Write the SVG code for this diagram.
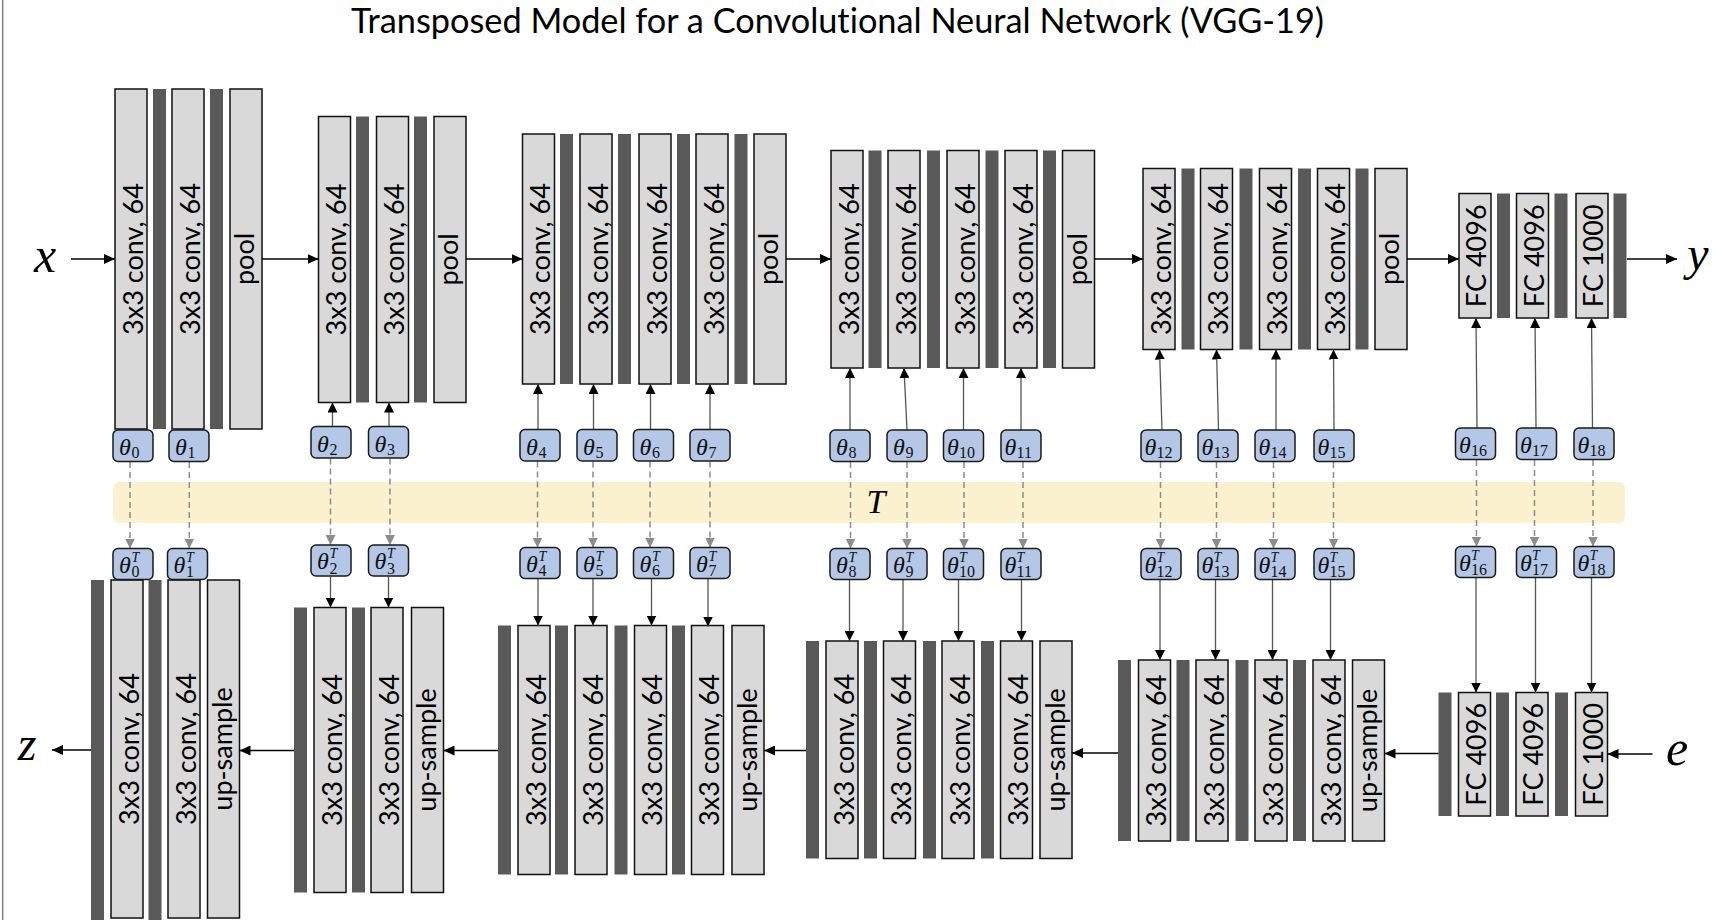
<svg xmlns="http://www.w3.org/2000/svg" width="1729" height="920" viewBox="0 0 1729 920">
<style>
  .box{fill:#D9D9D9;stroke:#111;stroke-width:1.5}
  .bar{fill:#595959}
  .lbl{font-family:Lato,"Open Sans",sans-serif;font-size:27px;fill:#000;text-anchor:middle}
  .th{fill:#B4C7E7;stroke:#1a1a1a;stroke-width:1.5}
  .tt{font-family:"Liberation Serif","DejaVu Serif",serif;font-style:italic;font-size:24px;fill:#111}
  .sb{font-style:normal;font-size:16px}
  .sp{font-style:italic;font-size:14px}
  .var{font-family:"Liberation Serif","DejaVu Serif",serif;font-style:italic;fill:#000}
  .main{stroke:#000;stroke-width:1.7;fill:none}
  .up{stroke:#555;stroke-width:1.3;fill:none}
  .dash{stroke:#8C8C8C;stroke-width:1.5;stroke-dasharray:6 4;fill:none}
  .title{font-family:Lato,"Open Sans",sans-serif;font-size:34px;fill:#000;text-anchor:middle;font-variant-ligatures:none}
</style>
<defs>
  <marker id="ah" markerUnits="userSpaceOnUse" markerWidth="11" markerHeight="10" refX="11" refY="5" orient="auto">
    <path d="M0,0 L11,5 L0,10 Z" fill="#000"/>
  </marker>
  <marker id="av" markerUnits="userSpaceOnUse" markerWidth="10" markerHeight="10" refX="10" refY="5" orient="auto">
    <path d="M0,0 L10,5 L0,10 Z" fill="#000"/>
  </marker>
  <marker id="ag" markerUnits="userSpaceOnUse" markerWidth="10" markerHeight="10" refX="10" refY="5" orient="auto">
    <path d="M0,0 L10,5 L0,10 Z" fill="#8C8C8C"/>
  </marker>
</defs>

<rect width="1729" height="920" fill="#fff"/>
<line x1="2.7" y1="0" x2="2.7" y2="920" stroke="#808080" stroke-width="1.5"/>

<text class="title" x="837.5" y="33" textLength="973" lengthAdjust="spacingAndGlyphs">Transposed Model for a Convolutional Neural Network (VGG-19)</text>

<!-- shared weight transform band -->
<g id="band-T">
  <rect x="113" y="482" width="1512" height="41" rx="6" fill="#FCF1CF"/>
  <text class="var" x="876" y="513" font-size="34" text-anchor="middle">T</text>
</g>

<!-- input / output variables -->
<g id="var-x"><text class="var" x="45" y="272" font-size="50" text-anchor="middle">x</text></g>
<g id="var-y"><text class="var" x="1698" y="270" font-size="48" text-anchor="middle">y</text></g>
<g id="var-z"><text class="var" x="27" y="760" font-size="48" text-anchor="middle">z</text></g>
<g id="var-e"><text class="var" x="1677" y="765" font-size="50" text-anchor="middle">e</text></g>

<!-- ===== forward network ===== -->
<g id="f1-1"><rect class="box" x="115" y="89" width="32" height="340"/><text class="lbl" transform="translate(142.5,259) rotate(-90)">3x3 conv, 64</text></g>
<g id="f1-2"><rect class="box" x="172" y="89" width="32" height="340"/><text class="lbl" transform="translate(199.5,259) rotate(-90)">3x3 conv, 64</text></g>
<g id="f1-pool"><rect class="box" x="230" y="89" width="32" height="340"/><text class="lbl" transform="translate(254,259) rotate(-90)">pool</text></g>
<g id="f1-act" class="bar"><rect x="153" y="89" width="13" height="340"/><rect x="210" y="89" width="13" height="340"/></g>

<g id="f2-1"><rect class="box" x="318.5" y="116.5" width="32" height="286"/><text class="lbl" transform="translate(346,259.5) rotate(-90)">3x3 conv, 64</text></g>
<g id="f2-2"><rect class="box" x="376.5" y="116.5" width="32" height="286"/><text class="lbl" transform="translate(404,259.5) rotate(-90)">3x3 conv, 64</text></g>
<g id="f2-pool"><rect class="box" x="434" y="116.5" width="32" height="286"/><text class="lbl" transform="translate(458,259.5) rotate(-90)">pool</text></g>
<g id="f2-act" class="bar"><rect x="356" y="116.5" width="13" height="286"/><rect x="414" y="116.5" width="13" height="286"/></g>

<g id="f3-1"><rect class="box" x="522.5" y="134" width="32" height="250"/><text class="lbl" transform="translate(550,259) rotate(-90)">3x3 conv, 64</text></g>
<g id="f3-2"><rect class="box" x="580" y="134" width="32" height="250"/><text class="lbl" transform="translate(607.5,259) rotate(-90)">3x3 conv, 64</text></g>
<g id="f3-3"><rect class="box" x="639" y="134" width="32" height="250"/><text class="lbl" transform="translate(666.5,259) rotate(-90)">3x3 conv, 64</text></g>
<g id="f3-4"><rect class="box" x="696" y="134" width="32" height="250"/><text class="lbl" transform="translate(723.5,259) rotate(-90)">3x3 conv, 64</text></g>
<g id="f3-pool"><rect class="box" x="754" y="134" width="32" height="250"/><text class="lbl" transform="translate(778,259) rotate(-90)">pool</text></g>
<g id="f3-act" class="bar"><rect x="560" y="134" width="13" height="250"/><rect x="618" y="134" width="13" height="250"/><rect x="677" y="134" width="13" height="250"/><rect x="734.5" y="134" width="13" height="250"/></g>

<g id="f4-1"><rect class="box" x="831" y="150.5" width="32" height="217.5"/><text class="lbl" transform="translate(858.5,259.3) rotate(-90)">3x3 conv, 64</text></g>
<g id="f4-2"><rect class="box" x="888" y="150.5" width="32" height="217.5"/><text class="lbl" transform="translate(915.5,259.3) rotate(-90)">3x3 conv, 64</text></g>
<g id="f4-3"><rect class="box" x="947" y="150.5" width="32" height="217.5"/><text class="lbl" transform="translate(974.5,259.3) rotate(-90)">3x3 conv, 64</text></g>
<g id="f4-4"><rect class="box" x="1005" y="150.5" width="32" height="217.5"/><text class="lbl" transform="translate(1032.5,259.3) rotate(-90)">3x3 conv, 64</text></g>
<g id="f4-pool"><rect class="box" x="1062.5" y="150.5" width="32" height="217.5"/><text class="lbl" transform="translate(1086.5,259.3) rotate(-90)">pool</text></g>
<g id="f4-act" class="bar"><rect x="868.5" y="150.5" width="13" height="217.5"/><rect x="927" y="150.5" width="13" height="217.5"/><rect x="985.5" y="150.5" width="13" height="217.5"/><rect x="1043" y="150.5" width="13" height="217.5"/></g>

<g id="f5-1"><rect class="box" x="1143" y="168.5" width="32" height="181"/><text class="lbl" transform="translate(1170.5,259) rotate(-90)">3x3 conv, 64</text></g>
<g id="f5-2"><rect class="box" x="1200.5" y="168.5" width="32" height="181"/><text class="lbl" transform="translate(1228,259) rotate(-90)">3x3 conv, 64</text></g>
<g id="f5-3"><rect class="box" x="1259.5" y="168.5" width="32" height="181"/><text class="lbl" transform="translate(1287,259) rotate(-90)">3x3 conv, 64</text></g>
<g id="f5-4"><rect class="box" x="1317.5" y="168.5" width="32" height="181"/><text class="lbl" transform="translate(1345,259) rotate(-90)">3x3 conv, 64</text></g>
<g id="f5-pool"><rect class="box" x="1375" y="168.5" width="32" height="181"/><text class="lbl" transform="translate(1399,259) rotate(-90)">pool</text></g>
<g id="f5-act" class="bar"><rect x="1181.5" y="168.5" width="13" height="181"/><rect x="1239.5" y="168.5" width="13" height="181"/><rect x="1298" y="168.5" width="13" height="181"/><rect x="1355.5" y="168.5" width="13" height="181"/></g>

<g id="f6-fc1"><rect class="box" x="1459" y="193.5" width="32" height="124.5"/><text class="lbl" transform="translate(1486,255.8) rotate(-90)">FC 4096</text></g>
<g id="f6-fc2"><rect class="box" x="1516.5" y="193.5" width="32" height="124.5"/><text class="lbl" transform="translate(1543.5,255.8) rotate(-90)">FC 4096</text></g>
<g id="f6-fc3"><rect class="box" x="1576" y="193.5" width="32" height="124.5"/><text class="lbl" transform="translate(1603,255.8) rotate(-90)">FC 1000</text></g>
<g id="f6-act" class="bar"><rect x="1497" y="193.5" width="13" height="124.5"/><rect x="1554.5" y="193.5" width="13" height="124.5"/><rect x="1613.5" y="193.5" width="13" height="124.5"/></g>

<!-- ===== transposed network ===== -->
<g id="t1-1"><rect class="box" x="111" y="580" width="32" height="338"/><text class="lbl" transform="translate(138.5,749) rotate(-90)">3x3 conv, 64</text></g>
<g id="t1-2"><rect class="box" x="168" y="580" width="32" height="338"/><text class="lbl" transform="translate(195.5,749) rotate(-90)">3x3 conv, 64</text></g>
<g id="t1-up"><rect class="box" x="207.5" y="580" width="32" height="338"/><text class="lbl" transform="translate(232,749) rotate(-90)">up-sample</text></g>
<g id="t1-act" class="bar"><rect x="91" y="580" width="13" height="340"/><rect x="148.5" y="580" width="13" height="340"/></g>

<g id="t2-1"><rect class="box" x="314" y="607.5" width="32" height="285"/><text class="lbl" transform="translate(341.5,750) rotate(-90)">3x3 conv, 64</text></g>
<g id="t2-2"><rect class="box" x="371" y="607.5" width="32" height="285"/><text class="lbl" transform="translate(398.5,750) rotate(-90)">3x3 conv, 64</text></g>
<g id="t2-up"><rect class="box" x="411.5" y="607.5" width="32" height="285"/><text class="lbl" transform="translate(436,750) rotate(-90)">up-sample</text></g>
<g id="t2-act" class="bar"><rect x="294" y="607.5" width="13" height="285"/><rect x="352" y="607.5" width="13" height="285"/></g>

<g id="t3-1"><rect class="box" x="518" y="625.5" width="32" height="249"/><text class="lbl" transform="translate(545.5,750) rotate(-90)">3x3 conv, 64</text></g>
<g id="t3-2"><rect class="box" x="575" y="625.5" width="32" height="249"/><text class="lbl" transform="translate(602.5,750) rotate(-90)">3x3 conv, 64</text></g>
<g id="t3-3"><rect class="box" x="634.5" y="625.5" width="32" height="249"/><text class="lbl" transform="translate(662,750) rotate(-90)">3x3 conv, 64</text></g>
<g id="t3-4"><rect class="box" x="691.5" y="625.5" width="32" height="249"/><text class="lbl" transform="translate(719,750) rotate(-90)">3x3 conv, 64</text></g>
<g id="t3-up"><rect class="box" x="732" y="625.5" width="32" height="249"/><text class="lbl" transform="translate(756.5,750) rotate(-90)">up-sample</text></g>
<g id="t3-act" class="bar"><rect x="498" y="625.5" width="13" height="249"/><rect x="555" y="625.5" width="13" height="249"/><rect x="614.5" y="625.5" width="13" height="249"/><rect x="672" y="625.5" width="13" height="249"/></g>

<g id="t4-1"><rect class="box" x="826" y="641" width="32" height="217.5"/><text class="lbl" transform="translate(853.5,749.8) rotate(-90)">3x3 conv, 64</text></g>
<g id="t4-2"><rect class="box" x="883.5" y="641" width="32" height="217.5"/><text class="lbl" transform="translate(911,749.8) rotate(-90)">3x3 conv, 64</text></g>
<g id="t4-3"><rect class="box" x="942" y="641" width="32" height="217.5"/><text class="lbl" transform="translate(969.5,749.8) rotate(-90)">3x3 conv, 64</text></g>
<g id="t4-4"><rect class="box" x="1000.5" y="641" width="32" height="217.5"/><text class="lbl" transform="translate(1028,749.8) rotate(-90)">3x3 conv, 64</text></g>
<g id="t4-up"><rect class="box" x="1040" y="641" width="32" height="217.5"/><text class="lbl" transform="translate(1064.5,749.8) rotate(-90)">up-sample</text></g>
<g id="t4-act" class="bar"><rect x="806" y="641" width="13" height="217.5"/><rect x="864" y="641" width="13" height="217.5"/><rect x="923" y="641" width="13" height="217.5"/><rect x="981" y="641" width="13" height="217.5"/></g>

<g id="t5-1"><rect class="box" x="1138.5" y="660" width="32" height="181"/><text class="lbl" transform="translate(1166,750.5) rotate(-90)">3x3 conv, 64</text></g>
<g id="t5-2"><rect class="box" x="1196" y="660" width="32" height="181"/><text class="lbl" transform="translate(1223.5,750.5) rotate(-90)">3x3 conv, 64</text></g>
<g id="t5-3"><rect class="box" x="1255" y="660" width="32" height="181"/><text class="lbl" transform="translate(1282.5,750.5) rotate(-90)">3x3 conv, 64</text></g>
<g id="t5-4"><rect class="box" x="1313" y="660" width="32" height="181"/><text class="lbl" transform="translate(1340.5,750.5) rotate(-90)">3x3 conv, 64</text></g>
<g id="t5-up"><rect class="box" x="1352.5" y="660" width="32" height="181"/><text class="lbl" transform="translate(1377,750.5) rotate(-90)">up-sample</text></g>
<g id="t5-act" class="bar"><rect x="1118" y="660" width="13" height="181"/><rect x="1176.5" y="660" width="13" height="181"/><rect x="1235.5" y="660" width="13" height="181"/><rect x="1293" y="660" width="13" height="181"/></g>

<g id="t6-fc1"><rect class="box" x="1458.5" y="692.5" width="32" height="123.5"/><text class="lbl" transform="translate(1485.5,754.3) rotate(-90)">FC 4096</text></g>
<g id="t6-fc2"><rect class="box" x="1516" y="692.5" width="32" height="123.5"/><text class="lbl" transform="translate(1543,754.3) rotate(-90)">FC 4096</text></g>
<g id="t6-fc3"><rect class="box" x="1575.5" y="692.5" width="32" height="123.5"/><text class="lbl" transform="translate(1602.5,754.3) rotate(-90)">FC 1000</text></g>
<g id="t6-act" class="bar"><rect x="1438.5" y="692.5" width="13" height="123.5"/><rect x="1496" y="692.5" width="13" height="123.5"/><rect x="1555" y="692.5" width="13" height="123.5"/></g>

<!-- ===== connectors ===== -->
<g id="connectors">
  <!-- data flow, forward -->
  <g class="main" marker-end="url(#ah)">
    <line x1="71" y1="259" x2="115" y2="259"/>
    <line x1="262" y1="259" x2="318.5" y2="259"/>
    <line x1="466" y1="259" x2="522.5" y2="259"/>
    <line x1="786" y1="259" x2="831" y2="259"/>
    <line x1="1094.5" y1="259" x2="1143" y2="259"/>
    <line x1="1407" y1="259" x2="1459" y2="259"/>
    <line x1="1627" y1="259" x2="1677" y2="259"/>
  <!-- data flow, transposed -->
    <line x1="1652.5" y1="754" x2="1607.5" y2="754"/>
    <line x1="1438.5" y1="753.5" x2="1384.5" y2="753.5"/>
    <line x1="1118" y1="753" x2="1072" y2="753"/>
    <line x1="806" y1="750.5" x2="764" y2="750.5"/>
    <line x1="498" y1="750.5" x2="443.5" y2="750.5"/>
    <line x1="294" y1="750.5" x2="239.5" y2="750.5"/>
    <line x1="91" y1="750" x2="52" y2="750"/>
  </g>
  <!-- weights into forward layers -->
  <g class="up" marker-end="url(#av)">
    <line x1="332.5" y1="426.5" x2="332.5" y2="402.5"/>
    <line x1="389" y1="426.5" x2="389" y2="402.5"/>
    <line x1="538" y1="429.5" x2="538" y2="384"/>
    <line x1="593.5" y1="429.5" x2="593.5" y2="384"/>
    <line x1="650.5" y1="429.5" x2="650.5" y2="384"/>
    <line x1="710" y1="429.5" x2="710" y2="384"/>
    <line x1="850" y1="430" x2="850" y2="368"/>
    <line x1="907" y1="430" x2="904" y2="368"/>
    <line x1="963.5" y1="430" x2="963.5" y2="368"/>
    <line x1="1021" y1="430" x2="1021" y2="368"/>
    <line x1="1162" y1="430" x2="1159.5" y2="349.5"/>
    <line x1="1218.5" y1="430" x2="1216.5" y2="349.5"/>
    <line x1="1276" y1="430" x2="1276" y2="349.5"/>
    <line x1="1334" y1="430" x2="1333.5" y2="349.5"/>
    <line x1="1477" y1="428" x2="1476" y2="318"/>
    <line x1="1536" y1="428" x2="1535" y2="318"/>
    <line x1="1592.5" y1="428" x2="1591.5" y2="318"/>
  </g>
  <!-- transposed weights into transposed layers -->
  <g class="up" marker-end="url(#av)">
    <line x1="330.5" y1="576.5" x2="330.5" y2="607.5"/>
    <line x1="388.5" y1="576.5" x2="388.5" y2="607.5"/>
    <line x1="538" y1="579" x2="538" y2="625.5"/>
    <line x1="593" y1="579" x2="593" y2="625.5"/>
    <line x1="651.5" y1="579" x2="651.5" y2="625.5"/>
    <line x1="708" y1="579" x2="708" y2="626.5"/>
    <line x1="849.5" y1="580" x2="849.5" y2="641"/>
    <line x1="903" y1="580" x2="903" y2="641"/>
    <line x1="958.5" y1="580" x2="958.5" y2="641"/>
    <line x1="1021.5" y1="580" x2="1021.5" y2="641"/>
    <line x1="1160" y1="580" x2="1160" y2="660"/>
    <line x1="1215.5" y1="580" x2="1215.5" y2="660"/>
    <line x1="1272.5" y1="580" x2="1272.5" y2="660"/>
    <line x1="1330.5" y1="580" x2="1330.5" y2="660"/>
    <line x1="1476" y1="578" x2="1476" y2="692.5"/>
    <line x1="1535.5" y1="578" x2="1535.5" y2="692.5"/>
    <line x1="1591.5" y1="578" x2="1591.5" y2="692.5"/>
  </g>
  <!-- transpose mapping theta -> theta^T -->
  <g class="dash" marker-end="url(#ag)">
    <line x1="130" y1="462" x2="130" y2="548.5"/>
    <line x1="189.3" y1="462" x2="189.3" y2="548.5"/>
    <line x1="330.5" y1="458.5" x2="330.5" y2="545"/>
    <line x1="390" y1="458.5" x2="390" y2="545"/>
    <line x1="537.5" y1="461.5" x2="537.5" y2="547.5"/>
    <line x1="593" y1="461.5" x2="593" y2="547.5"/>
    <line x1="650" y1="461.5" x2="650" y2="547.5"/>
    <line x1="710" y1="461.5" x2="710" y2="547.5"/>
    <line x1="850.5" y1="462" x2="850.5" y2="548.5"/>
    <line x1="907" y1="462" x2="907" y2="548.5"/>
    <line x1="964" y1="462" x2="964" y2="548.5"/>
    <line x1="1023" y1="462" x2="1023" y2="548.5"/>
    <line x1="1160.5" y1="462" x2="1160.5" y2="548.5"/>
    <line x1="1216.5" y1="462" x2="1216.5" y2="548.5"/>
    <line x1="1273.5" y1="462" x2="1273.5" y2="548.5"/>
    <line x1="1333.5" y1="462" x2="1333.5" y2="548.5"/>
    <line x1="1476.5" y1="460" x2="1476.5" y2="546.5"/>
    <line x1="1534.5" y1="460" x2="1534.5" y2="546.5"/>
    <line x1="1593" y1="460" x2="1593" y2="546.5"/>
  </g>
</g>

<!-- ===== weight nodes ===== -->
<g id="w0"><rect class="th" x="113" y="430" width="40" height="31.5" rx="5"/><text class="tt" x="119" y="455">θ<tspan class="sb" x="131.5" y="458">0</tspan></text></g>
<g id="w1"><rect class="th" x="169" y="430" width="40" height="31.5" rx="5"/><text class="tt" x="175" y="455">θ<tspan class="sb" x="187.5" y="458">1</tspan></text></g>
<g id="w2"><rect class="th" x="311" y="426.5" width="40" height="31.5" rx="5"/><text class="tt" x="317" y="451.5">θ<tspan class="sb" x="329.5" y="454.5">2</tspan></text></g>
<g id="w3"><rect class="th" x="368.5" y="426.5" width="40" height="31.5" rx="5"/><text class="tt" x="374.5" y="451.5">θ<tspan class="sb" x="387" y="454.5">3</tspan></text></g>
<g id="w4"><rect class="th" x="520" y="429.5" width="40" height="31.5" rx="5"/><text class="tt" x="526" y="454.5">θ<tspan class="sb" x="538.5" y="457.5">4</tspan></text></g>
<g id="w5"><rect class="th" x="577" y="429.5" width="40" height="31.5" rx="5"/><text class="tt" x="583" y="454.5">θ<tspan class="sb" x="595.5" y="457.5">5</tspan></text></g>
<g id="w6"><rect class="th" x="633.5" y="429.5" width="40" height="31.5" rx="5"/><text class="tt" x="639.5" y="454.5">θ<tspan class="sb" x="652" y="457.5">6</tspan></text></g>
<g id="w7"><rect class="th" x="690" y="429.5" width="40" height="31.5" rx="5"/><text class="tt" x="696" y="454.5">θ<tspan class="sb" x="708.5" y="457.5">7</tspan></text></g>
<g id="w8"><rect class="th" x="830" y="430" width="40" height="31.5" rx="5"/><text class="tt" x="836" y="455">θ<tspan class="sb" x="848.5" y="458">8</tspan></text></g>
<g id="w9"><rect class="th" x="887" y="430" width="40" height="31.5" rx="5"/><text class="tt" x="893" y="455">θ<tspan class="sb" x="905.5" y="458">9</tspan></text></g>
<g id="w10"><rect class="th" x="943.5" y="430" width="40" height="31.5" rx="5"/><text class="tt" x="947" y="455">θ<tspan class="sb" x="959" y="458">10</tspan></text></g>
<g id="w11"><rect class="th" x="1001" y="430" width="40" height="31.5" rx="5"/><text class="tt" x="1004.5" y="455">θ<tspan class="sb" x="1016.5" y="458">11</tspan></text></g>
<g id="w12"><rect class="th" x="1141" y="430" width="40" height="31.5" rx="5"/><text class="tt" x="1144.5" y="455">θ<tspan class="sb" x="1156.5" y="458">12</tspan></text></g>
<g id="w13"><rect class="th" x="1198" y="430" width="40" height="31.5" rx="5"/><text class="tt" x="1201.5" y="455">θ<tspan class="sb" x="1213.5" y="458">13</tspan></text></g>
<g id="w14"><rect class="th" x="1255" y="430" width="40" height="31.5" rx="5"/><text class="tt" x="1258.5" y="455">θ<tspan class="sb" x="1270.5" y="458">14</tspan></text></g>
<g id="w15"><rect class="th" x="1314" y="430" width="40" height="31.5" rx="5"/><text class="tt" x="1317.5" y="455">θ<tspan class="sb" x="1329.5" y="458">15</tspan></text></g>
<g id="w16"><rect class="th" x="1455.5" y="428" width="40" height="31.5" rx="5"/><text class="tt" x="1459" y="453">θ<tspan class="sb" x="1471" y="456">16</tspan></text></g>
<g id="w17"><rect class="th" x="1516.5" y="428" width="40" height="31.5" rx="5"/><text class="tt" x="1520" y="453">θ<tspan class="sb" x="1532" y="456">17</tspan></text></g>
<g id="w18"><rect class="th" x="1574" y="428" width="40" height="31.5" rx="5"/><text class="tt" x="1577.5" y="453">θ<tspan class="sb" x="1589.5" y="456">18</tspan></text></g>

<g id="wt0"><rect class="th" x="113" y="548.5" width="40" height="31" rx="5"/><text class="tt" x="119" y="572.5">θ<tspan class="sp" x="131.5" y="561.5">T</tspan><tspan class="sb" x="131.5" y="577">0</tspan></text></g>
<g id="wt1"><rect class="th" x="167.5" y="548.5" width="40" height="31" rx="5"/><text class="tt" x="173.5" y="572.5">θ<tspan class="sp" x="186" y="561.5">T</tspan><tspan class="sb" x="186" y="577">1</tspan></text></g>
<g id="wt2"><rect class="th" x="311" y="545" width="40" height="31" rx="5"/><text class="tt" x="317" y="569">θ<tspan class="sp" x="329.5" y="558">T</tspan><tspan class="sb" x="329.5" y="573.5">2</tspan></text></g>
<g id="wt3"><rect class="th" x="368.5" y="545" width="40" height="31" rx="5"/><text class="tt" x="374.5" y="569">θ<tspan class="sp" x="387" y="558">T</tspan><tspan class="sb" x="387" y="573.5">3</tspan></text></g>
<g id="wt4"><rect class="th" x="520" y="547.5" width="40" height="31" rx="5"/><text class="tt" x="526" y="571.5">θ<tspan class="sp" x="538.5" y="560.5">T</tspan><tspan class="sb" x="538.5" y="576">4</tspan></text></g>
<g id="wt5"><rect class="th" x="577" y="547.5" width="40" height="31" rx="5"/><text class="tt" x="583" y="571.5">θ<tspan class="sp" x="595.5" y="560.5">T</tspan><tspan class="sb" x="595.5" y="576">5</tspan></text></g>
<g id="wt6"><rect class="th" x="633.5" y="547.5" width="40" height="31" rx="5"/><text class="tt" x="639.5" y="571.5">θ<tspan class="sp" x="652" y="560.5">T</tspan><tspan class="sb" x="652" y="576">6</tspan></text></g>
<g id="wt7"><rect class="th" x="690" y="547.5" width="40" height="31" rx="5"/><text class="tt" x="696" y="571.5">θ<tspan class="sp" x="708.5" y="560.5">T</tspan><tspan class="sb" x="708.5" y="576">7</tspan></text></g>
<g id="wt8"><rect class="th" x="830" y="548.5" width="40" height="31" rx="5"/><text class="tt" x="836" y="572.5">θ<tspan class="sp" x="848.5" y="561.5">T</tspan><tspan class="sb" x="848.5" y="577">8</tspan></text></g>
<g id="wt9"><rect class="th" x="887" y="548.5" width="40" height="31" rx="5"/><text class="tt" x="893" y="572.5">θ<tspan class="sp" x="905.5" y="561.5">T</tspan><tspan class="sb" x="905.5" y="577">9</tspan></text></g>
<g id="wt10"><rect class="th" x="943.5" y="548.5" width="40" height="31" rx="5"/><text class="tt" x="947" y="572.5">θ<tspan class="sp" x="959" y="561.5">T</tspan><tspan class="sb" x="959" y="577">10</tspan></text></g>
<g id="wt11"><rect class="th" x="1001" y="548.5" width="40" height="31" rx="5"/><text class="tt" x="1004.5" y="572.5">θ<tspan class="sp" x="1016.5" y="561.5">T</tspan><tspan class="sb" x="1016.5" y="577">11</tspan></text></g>
<g id="wt12"><rect class="th" x="1141" y="548.5" width="40" height="31" rx="5"/><text class="tt" x="1144.5" y="572.5">θ<tspan class="sp" x="1156.5" y="561.5">T</tspan><tspan class="sb" x="1156.5" y="577">12</tspan></text></g>
<g id="wt13"><rect class="th" x="1198" y="548.5" width="40" height="31" rx="5"/><text class="tt" x="1201.5" y="572.5">θ<tspan class="sp" x="1213.5" y="561.5">T</tspan><tspan class="sb" x="1213.5" y="577">13</tspan></text></g>
<g id="wt14"><rect class="th" x="1255" y="548.5" width="40" height="31" rx="5"/><text class="tt" x="1258.5" y="572.5">θ<tspan class="sp" x="1270.5" y="561.5">T</tspan><tspan class="sb" x="1270.5" y="577">14</tspan></text></g>
<g id="wt15"><rect class="th" x="1314" y="548.5" width="40" height="31" rx="5"/><text class="tt" x="1317.5" y="572.5">θ<tspan class="sp" x="1329.5" y="561.5">T</tspan><tspan class="sb" x="1329.5" y="577">15</tspan></text></g>
<g id="wt16"><rect class="th" x="1455.5" y="546.5" width="40" height="31" rx="5"/><text class="tt" x="1459" y="570.5">θ<tspan class="sp" x="1471" y="559.5">T</tspan><tspan class="sb" x="1471" y="575">16</tspan></text></g>
<g id="wt17"><rect class="th" x="1516.5" y="546.5" width="40" height="31" rx="5"/><text class="tt" x="1520" y="570.5">θ<tspan class="sp" x="1532" y="559.5">T</tspan><tspan class="sb" x="1532" y="575">17</tspan></text></g>
<g id="wt18"><rect class="th" x="1574" y="546.5" width="40" height="31" rx="5"/><text class="tt" x="1577.5" y="570.5">θ<tspan class="sp" x="1589.5" y="559.5">T</tspan><tspan class="sb" x="1589.5" y="575">18</tspan></text></g>
</svg>
